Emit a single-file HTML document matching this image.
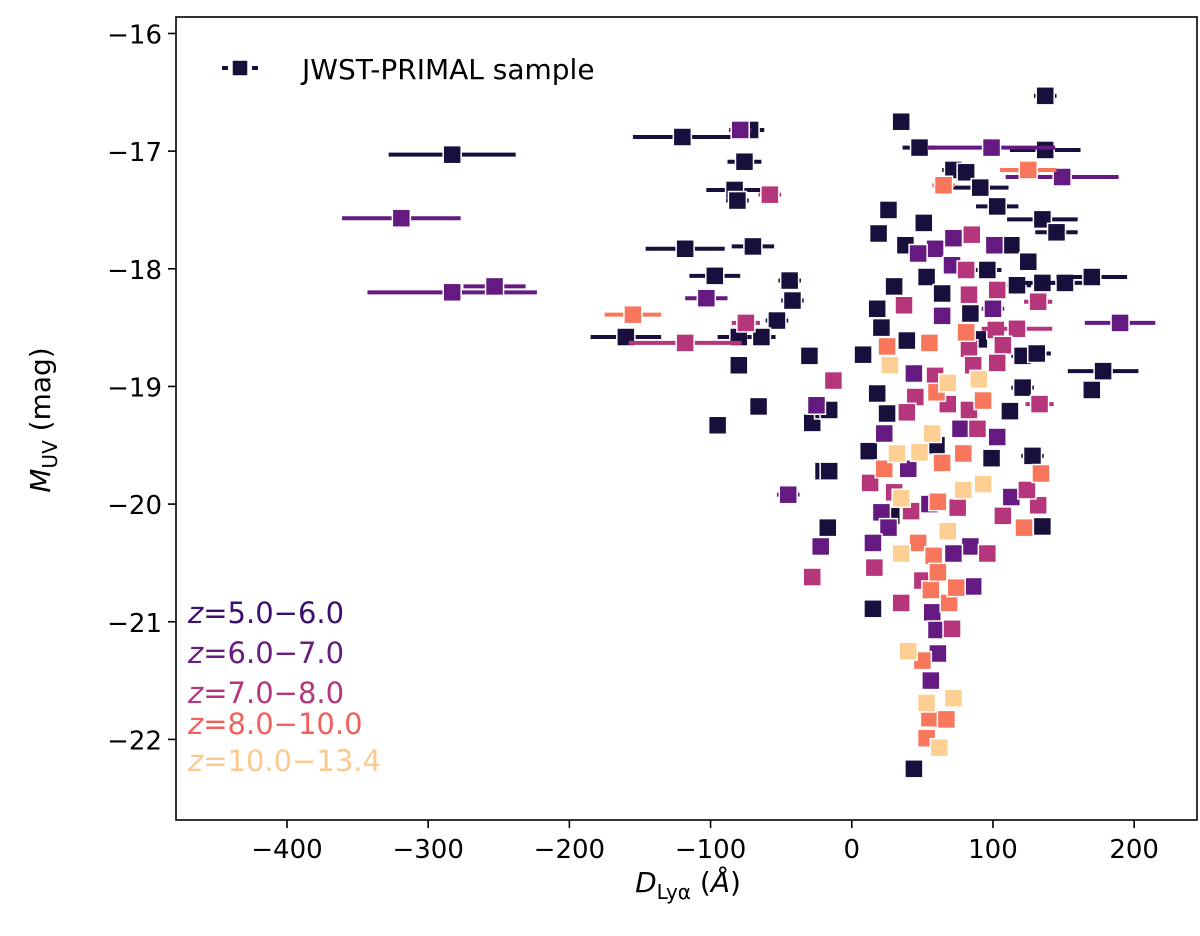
<!DOCTYPE html>
<html><head><meta charset="utf-8"><style>
body{margin:0;background:#fff;}
svg{display:block;font-family:"DejaVu Sans","Liberation Sans",sans-serif;}
</style></head><body>
<svg id="chart" width="1200" height="936" viewBox="0 0 1200 936" xmlns="http://www.w3.org/2000/svg">
<rect width="1200" height="936" fill="#fff"/>
<g id="marks"></g>
<rect x="176" y="17" width="1021" height="803" fill="none" stroke="#000" stroke-width="1.6"/>
<g id="axes"></g>
<g>
<line x1="222" y1="68" x2="260" y2="68" stroke="#180f3d" stroke-width="4" stroke-dasharray="6,4"/>
<rect x="232" y="60" width="16" height="16" fill="#180f3d" stroke="#fff" stroke-width="1.5"/>
<text x="302" y="79" font-size="28">JWST-PRIMAL sample</text>
</g>
<g font-size="29">
<text x="188" y="623" fill="#3b0f70"><tspan font-style="italic">z</tspan>=5.0−6.0</text>
<text x="188" y="663" fill="#6a1c81"><tspan font-style="italic">z</tspan>=6.0−7.0</text>
<text x="188" y="703" fill="#b5367a"><tspan font-style="italic">z</tspan>=7.0−8.0</text>
<text x="188" y="734" fill="#f1605d"><tspan font-style="italic">z</tspan>=8.0−10.0</text>
<text x="188" y="771" fill="#fec98d"><tspan font-style="italic">z</tspan>=10.0−13.4</text>
</g>
<text x="688" y="892" font-size="28" text-anchor="middle"><tspan font-style="italic">D</tspan><tspan font-size="20" dy="7">Lyα</tspan><tspan dy="-7"> (</tspan><tspan font-style="italic">Å</tspan>)</text>
<text transform="translate(50,420) rotate(-90)" font-size="28" text-anchor="middle"><tspan font-style="italic">M</tspan><tspan font-size="20" dy="7">UV</tspan><tspan dy="-7"> (mag)</tspan></text>
</svg>
<script>
const xTicks=[-400,-300,-200,-100,0,100,200];
const yTicks=[-16,-17,-18,-19,-20,-21,-22];
const groupNames=["z5-6","z6-7","z7-8","z8-10","z10-13"];
const groupColors=["#180f3d","#641a80","#b5367a","#f8765c","#fecf92"];
// each point: [D_Lya, M_UV, xerr]
const darkPts=[[137,-16.53,8],[-283,-17.03,45],[-120,-16.88,35],[-72,-16.82,10],[-76,-17.09,12],[-83,-17.33,20],[-81,-17.42,8],[-118,-17.83,28],[-70,-17.81,15],[-97,-18.06,18],[-44,-18.1,8],[-42,-18.27,8],[-53,-18.44,8],[-80,-18.58,15],[-160,-18.58,25],[-64,-18.58,10],[-80,-18.82,0],[-30,-18.74,0],[-66,-19.17,0],[-95,-19.33,5],[-28,-19.31,0],[-20,-19.2,0],[-20,-19.72,0],[-16,-20.2,0],[35,-16.75,0],[48,-16.97,12],[137,-16.99,25],[72,-17.16,8],[81,-17.18,5],[91,-17.31,20],[103,-17.47,15],[135,-17.58,25],[145,-17.69,15],[26,-17.5,0],[51,-17.61,0],[19,-17.7,0],[38,-17.8,5],[113,-17.8,5],[125,-17.94,0],[96,-18.01,10],[53,-18.07,5],[30,-18.15,5],[64,-18.21,5],[117,-18.14,10],[135,-18.12,15],[151,-18.12,20],[170,-18.07,25],[18,-18.34,5],[84,-18.38,5],[21,-18.5,5],[39,-18.61,5],[8,-18.73,0],[121,-18.74,8],[131,-18.72,10],[178,-18.87,25],[121,-19.01,8],[170,-19.03,5],[-16,-19.2,0],[18,-19.06,5],[25,-19.23,5],[112,-19.21,5],[128,-19.59,8],[99,-19.61,5],[15,-20.89,0],[-16,-19.72,0],[-17,-20.2,0],[135,-20.19,5],[44,-22.25,0],[12,-19.55,5],[60,-19.5,5],[28,-20.1,5],[90,-18.6,5]];
const purplePts=[[-319,-17.57,42],[-283,-18.2,60],[-253,-18.15,22],[-79,-16.82,8],[-103,-18.25,15],[-25,-19.16,5],[-45,-19.92,8],[-22,-20.36,0],[99,-16.97,45],[149,-17.22,40],[72,-17.74,5],[101,-17.8,5],[59,-17.83,5],[47,-17.87,5],[71,-17.97,5],[64,-18.4,5],[100,-18.34,8],[190,-18.46,25],[44,-18.89,5],[23,-19.4,5],[77,-19.36,5],[103,-19.43,5],[21,-20.07,5],[26,-20.2,5],[15,-20.33,5],[84,-20.36,5],[72,-20.42,5],[86,-20.7,0],[57,-20.92,5],[60,-21.07,0],[61,-21.27,5],[56,-21.5,5],[113,-19.94,5],[40,-19.7,5],[55,-20.0,5]];
const magentaPts=[[-118,-18.63,40],[-75,-18.46,10],[-58,-17.37,8],[-28,-20.62,0],[-13,-18.95,0],[85,-17.71,5],[81,-18.01,5],[83,-18.22,5],[103,-18.18,5],[37,-18.31,5],[132,-18.28,10],[102,-18.52,5],[117,-18.51,25],[107,-18.65,5],[83,-18.68,5],[103,-18.8,5],[86,-18.82,5],[59,-18.91,5],[45,-19.09,5],[68,-19.15,5],[133,-19.15,10],[39,-19.22,5],[83,-19.2,5],[89,-19.36,5],[35,-20.84,5],[16,-20.54,5],[50,-20.65,5],[71,-21.06,5],[107,-20.1,5],[96,-20.42,5],[132,-20.01,5],[124,-19.88,5],[13,-19.82,5],[42,-20.06,5],[75,-20.03,5],[30,-19.9,5]];
const coralPts=[[-155,-18.39,20],[125,-17.16,20],[65,-17.29,8],[81,-18.54,5],[55,-18.63,5],[25,-18.66,5],[93,-19.12,5],[60,-19.05,5],[23,-19.7,5],[79,-19.57,5],[64,-19.65,5],[134,-19.74,5],[61,-19.98,5],[122,-20.2,5],[47,-20.33,5],[58,-20.44,5],[56,-20.73,5],[69,-20.84,5],[74,-20.71,5],[50,-21.33,5],[55,-21.82,5],[67,-21.83,0],[53,-21.99,0],[61,-20.58,5]];
const peachPts=[[27,-18.82,5],[68,-18.97,5],[90,-18.94,5],[57,-19.4,5],[32,-19.57,5],[48,-19.56,5],[35,-19.95,5],[79,-19.88,5],[93,-19.83,5],[68,-20.23,5],[35,-20.42,5],[40,-21.25,0],[53,-21.69,0],[72,-21.65,0],[62,-22.07,0]];
const groups=[darkPts,purplePts,magentaPts,coralPts,peachPts];

const X0=-478.6,X1=244.5,PL=176,PR=1197,Y0=-15.86,Y1=-22.685,PT=17,PB=820;
const xs=v=>PL+(v-X0)/(X1-X0)*(PR-PL);
const ys=v=>PT+(v-Y0)/(Y1-Y0)*(PB-PT);
const NS="http://www.w3.org/2000/svg";
function mk(tag,attrs,parent){const e=document.createElementNS(NS,tag);for(const k in attrs)e.setAttribute(k,attrs[k]);parent.appendChild(e);return e;}
const axes=document.getElementById('axes');
xTicks.forEach(t=>{
  const X=xs(t);
  const l=mk('line',{x1:X,x2:X,y1:PB,y2:PB+8,stroke:'#000','stroke-width':1.6},axes);
  
  
  const tx=mk('text',{x:X,y:PB+38,'font-size':26,'text-anchor':'middle'},axes);
  
  
  tx.textContent=(t<0?'−'+(-t):String(t));
});
yTicks.forEach(t=>{
  const Y=ys(t);
  const l=mk('line',{x1:PL-8,x2:PL,y1:Y,y2:Y,stroke:'#000','stroke-width':1.6},axes);
  
  
  const tx=mk('text',{x:PL-14,y:Y+10,'font-size':26,'text-anchor':'end'},axes);
  
  
  tx.textContent='−'+(-t);
});
const marks=document.getElementById('marks');
groups.forEach((pts,gi)=>{
  const g=mk('g',{},marks);
  
  
  const c=groupColors[gi];
  pts.forEach(p=>{
    const X=xs(p[0]),Y=ys(p[1]);
    if(p[2]>0){
      const e=mk('line',{x1:xs(p[0]-p[2]),x2:xs(p[0]+p[2]),y1:Y,y2:Y,stroke:c,'stroke-width':4},g);
      
      
    }
    const r=mk('rect',{x:X-9,y:Y-9,width:18,height:18,fill:c,stroke:'#fff','stroke-width':1.5},g);
    
    
  });
});
</script>
</body></html>
